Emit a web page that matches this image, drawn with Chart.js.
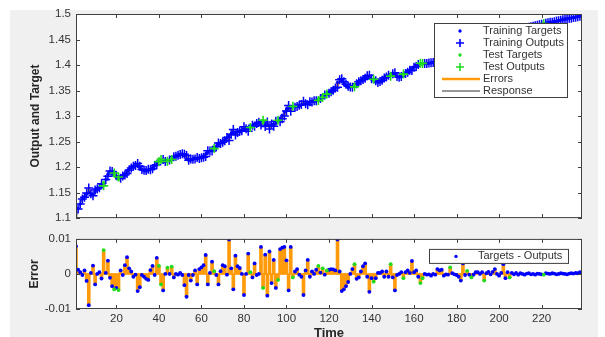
<!DOCTYPE html>
<html>
<head>
<meta charset="utf-8">
<script src="https://cdn.jsdelivr.net/npm/chart.js@4.4.0/dist/chart.umd.min.js"></script>
<style>
  html, body { margin: 0; padding: 0; background: #fff; overflow: hidden; width: 605px; height: 337px; }
  #fig { position: absolute; left: 10px; top: 10px; width: 588px; height: 327px; background: #f0f0f0; }
  #topChart { position: absolute; left: 0; top: 0; }
  #errChart { position: absolute; left: 0; top: 227px; }
</style>
</head>
<body>
<div id="fig"></div>
<canvas id="topChart" width="605" height="230"></canvas>
<canvas id="errChart" width="605" height="121"></canvas>
<script>
// time response plot: targets vs outputs (top) and errors (bottom)

const timeSteps = Array.from({ length: 239 }, (_, i) => i + 1);

// targets (t = 1..239)
const targets = [
  1.100, 1.119, 1.128, 1.137, 1.142, 1.147, 1.150, 1.148, 1.146, 1.152,
  1.157, 1.160, 1.166, 1.170, 1.176, 1.186, 1.191, 1.188, 1.184, 1.179,
  1.176, 1.179, 1.182, 1.187, 1.192, 1.196, 1.199, 1.201, 1.203, 1.202,
  1.198, 1.195, 1.193, 1.192, 1.194, 1.196, 1.199, 1.203, 1.209, 1.213,
  1.212, 1.210, 1.211, 1.213, 1.214, 1.217, 1.219, 1.221, 1.223, 1.225,
  1.226, 1.222, 1.216, 1.213, 1.214, 1.215, 1.217, 1.216, 1.218, 1.220,
  1.222, 1.226, 1.229, 1.232, 1.235, 1.237, 1.240, 1.244, 1.247, 1.251,
  1.254, 1.258, 1.262, 1.266, 1.269, 1.268, 1.270, 1.272, 1.271, 1.273,
  1.275, 1.276, 1.278, 1.281, 1.283, 1.285, 1.288, 1.290, 1.288, 1.285,
  1.282, 1.281, 1.282, 1.284, 1.286, 1.290, 1.296, 1.302, 1.308, 1.314,
  1.316, 1.317, 1.318, 1.318, 1.320, 1.321, 1.322, 1.323, 1.325, 1.326,
  1.327, 1.328, 1.330, 1.331, 1.333, 1.335, 1.338, 1.341, 1.344, 1.346,
  1.349, 1.352, 1.356, 1.366, 1.372, 1.368, 1.363, 1.359, 1.356, 1.357,
  1.358, 1.360, 1.362, 1.366, 1.370, 1.374, 1.377, 1.378, 1.375, 1.372,
  1.370, 1.368, 1.366, 1.368, 1.371, 1.374, 1.377, 1.379, 1.381, 1.382,
  1.380, 1.377, 1.376, 1.378, 1.381, 1.384, 1.387, 1.390, 1.393, 1.396,
  1.398, 1.400, 1.401, 1.402, 1.403, 1.403, 1.404, 1.404, 1.405, 1.405,
  1.407, 1.409, 1.411, 1.413, 1.415, 1.417, 1.419, 1.420, 1.422, 1.424,
  1.426, 1.428, 1.430, 1.432, 1.434, 1.435, 1.437, 1.439, 1.441, 1.442,
  1.444, 1.445, 1.447, 1.448, 1.450, 1.451, 1.453, 1.454, 1.456, 1.457,
  1.459, 1.460, 1.462, 1.463, 1.464, 1.466, 1.467, 1.468, 1.469, 1.470,
  1.471, 1.472, 1.473, 1.474, 1.475, 1.476, 1.477, 1.478, 1.479, 1.480,
  1.481, 1.482, 1.483, 1.484, 1.484, 1.485, 1.486, 1.487, 1.488, 1.489,
  1.490, 1.491, 1.492, 1.492, 1.493, 1.494, 1.495, 1.496, 1.497
];

// targets - outputs
const errors = [
  0.0079, 0.0012, 0.0005, -0.0003, 0.0010, -0.0020, -0.0089, 0.0003, 0.0024, -0.0030,
  0, 0.0005, -0.0013, 0.0068, 0.0003, 0.0038, -0.0011, -0.0035, -0.0044, -0.0040,
  -0.0046, 0.0010, -0.0003, 0.0025, 0.0048, 0.0016, 0.0007, -0.0008, -0.0002, -0.0049,
  -0.0038, -0.0003, -0.0008, -0.0014, -0.0017, 0.0011, 0.0023, -0.0003, 0.0046, 0.0023,
  -0.0030, -0.0047, 0, 0.0018, 0, 0.0021, -0.0010, 0, -0.0002, 0.0003,
  -0.0003, -0.0032, -0.0065, -0.0003, -0.0019, -0.0003, 0.0010, -0.0030, 0.0014, 0.0019,
  0.0025, 0.0054, -0.0030, 0.0003, 0.0035, 0.0008, -0.0003, -0.0030, 0.0008, 0.0025,
  0.0022, -0.0002, 0.0098, 0.0016, -0.0044, 0.0052, 0.0022, 0.0017, 0, -0.0060,
  0, 0.0058, 0.0005, -0.0010, 0.0030, -0.0003, 0, 0.0077, -0.0040, 0.0055,
  -0.0062, 0.0064, -0.0026, 0.0040, -0.0040, -0.0017, 0.0071, 0.0075, 0.0077, 0.0039,
  -0.0047, 0.0077, -0.0010, 0.0007, 0.0014, -0.0002, -0.0008, -0.0060, 0.0010, 0.0040,
  -0.0008, 0.0007, 0, 0.0012, 0.0023, 0.0004, 0.0016, -0.0002, 0.0010, 0.0012,
  0.0014, 0.0013, 0.0010, 0.0098, 0.0007, -0.0049, -0.0044, -0.0035, -0.0023, 0,
  0.0014, 0.0028, -0.0014, -0.0010, 0.0007, 0.0022, 0.0030, -0.0008, -0.0051, -0.0012,
  -0.0022, -0.0012, 0.0003, 0.0003, 0.0007, -0.0008, 0.0007, -0.0008, 0.0028, -0.0010,
  -0.0047, -0.0003, 0, 0.0005, -0.0012, 0.0005, 0.0010, 0.0003, 0.0037, 0.0005,
  0.0010, -0.0008, -0.0026, -0.0012, 0, -0.0002, -0.0001, -0.0005, 0, -0.0002,
  0.0014, 0.0010, 0.0012, -0.0005, -0.0001, -0.0002, 0.0019, 0.0002, -0.0001, -0.0003,
  -0.0008, -0.0019, 0.0030, -0.0003, 0.0009, -0.0002, -0.0010, -0.0002, 0.0005, 0.0005,
  0, 0.0005, -0.0019, 0.0002, 0.0006, -0.0001, 0.0006, 0.0014, 0, -0.0005,
  0.0003, 0.0028, -0.0012, 0.0005, -0.0010, 0.0003, -0.0001, 0.0003, -0.0002, 0.0002,
  0, -0.0002, 0.0001, 0.0002, -0.0001, 0, -0.0002, 0.0001, 0, -0.0001,
  -0.0002, 0.0002, 0.0001, 0, 0.0002, 0.0001, -0.0001, 0, 0.0002, 0.0001,
  0, -0.0001, 0.0001, 0.0002, 0.0001, 0.0003, 0.0002, 0.0005, 0.0003
];

// time steps that belong to the test set (green)
const testSteps = [14, 19, 21, 40, 41, 44, 46, 66, 83, 89, 96, 103, 115, 117, 119,
  132, 141, 149, 155, 163, 164, 177, 185, 187, 193, 205, 221];

const xTicks = [20, 40, 60, 80, 100, 120, 140, 160, 180, 200, 220];
const topYTicks = [1.1, 1.15, 1.2, 1.25, 1.3, 1.35, 1.4, 1.45, 1.5];
const errYTicks = [-0.01, 0, 0.01];

const BLUE = '#0000ff';
const GREEN = '#1fdc1f';
const ORANGE = '#ff9a0a';
const AXIS = '#404040';
const TEXT = '#333333';
const FONT = '"Liberation Sans", Arial, Helvetica, sans-serif';

Chart.defaults.font.family = FONT;

const outputs = targets.map((v, i) => +(v - errors[i]).toFixed(4));
const isTest = t => testSteps.includes(t);
const pick = (arr, test) => timeSteps.filter(t => isTest(t) === test).map(t => ({ x: t, y: arr[t - 1] }));

// white plot area, matlab-style box with inward ticks, boxed legend inside the axes
const matlabAxes = {
  id: 'matlabAxes',
  beforeDraw(chart) {
    const { ctx, chartArea: a } = chart;
    ctx.save();
    ctx.fillStyle = '#fff';
    ctx.fillRect(a.left, a.top, a.right - a.left, a.bottom - a.top);
    ctx.restore();
  },
  afterDraw(chart, args, opts) {
    const { ctx, chartArea: a } = chart;
    const xs = chart.scales.x, ys = chart.scales.y;
    ctx.save();

    // legend
    const lg = opts.legend;
    if (lg) {
      const x0 = a.right - lg.fromRight, y0 = a.top + lg.fromTop;
      ctx.fillStyle = '#fff';
      ctx.fillRect(x0, y0, lg.w, lg.h);
      ctx.strokeStyle = AXIS;
      ctx.lineWidth = 1;
      ctx.strokeRect(x0 + 0.5, y0 + 0.5, lg.w - 1, lg.h - 1);
      ctx.font = '11px ' + FONT;
      ctx.textBaseline = 'middle';
      ctx.textAlign = 'left';
      lg.items.forEach((it, i) => {
        const y = y0 + lg.firstRow + i * lg.rowGap;
        const sx = x0 + lg.symX;
        ctx.strokeStyle = it.color;
        ctx.fillStyle = it.color;
        if (it.kind === 'dot') {
          ctx.beginPath(); ctx.arc(sx, y, 1.7, 0, Math.PI * 2); ctx.fill();
        } else if (it.kind === 'cross') {
          ctx.lineWidth = 1.6;
          ctx.beginPath();
          ctx.moveTo(sx - 4, y); ctx.lineTo(sx + 4, y);
          ctx.moveTo(sx, y - 4); ctx.lineTo(sx, y + 4);
          ctx.stroke();
        } else {
          ctx.lineWidth = it.width;
          ctx.beginPath(); ctx.moveTo(x0 + 8, y); ctx.lineTo(x0 + 46, y); ctx.stroke();
        }
        ctx.fillStyle = TEXT;
        ctx.fillText(it.label, x0 + lg.textX, y);
      });
    }

    // box and ticks
    ctx.strokeStyle = AXIS;
    ctx.lineWidth = 1;
    ctx.strokeRect(a.left + 0.5, a.top + 0.5, a.right - a.left - 1, a.bottom - a.top - 1);
    ctx.beginPath();
    xTicks.forEach(v => {
      const px = Math.round(xs.getPixelForValue(v)) + 0.5;
      ctx.moveTo(px, a.bottom); ctx.lineTo(px, a.bottom - 4);
      ctx.moveTo(px, a.top); ctx.lineTo(px, a.top + 4);
    });
    opts.yTicks.forEach(v => {
      const py = Math.round(ys.getPixelForValue(v)) + 0.5;
      ctx.moveTo(a.left, py); ctx.lineTo(a.left + 4, py);
      ctx.moveTo(a.right, py); ctx.lineTo(a.right - 4, py);
    });
    ctx.stroke();
    ctx.restore();
  }
};

function yScale(min, max, ticks, title, titlePad) {
  return {
    type: 'linear', min, max,
    afterBuildTicks: s => { s.ticks = ticks.map(v => ({ value: v })); },
    afterFit: s => { s.width = 76; },
    grid: { display: false, drawTicks: false },
    border: { display: false },
    ticks: { color: TEXT, font: { size: 11.5 }, padding: 5, callback: v => String(v) },
    title: { display: true, text: title, color: '#262626', font: { size: 12, weight: 'bold' }, padding: { top: titlePad, bottom: 0 } }
  };
}

new Chart(document.getElementById('topChart'), {
  type: 'scatter',
  data: {
    datasets: [
      { type: 'scatter', label: 'Test Outputs', data: pick(outputs, true), pointStyle: 'cross', pointRadius: 4.5, borderColor: GREEN, borderWidth: 1.6, order: 0 },
      { type: 'scatter', label: 'Test Targets', data: pick(targets, true), pointRadius: 1.6, backgroundColor: GREEN, borderWidth: 0, order: 1 },
      { type: 'scatter', label: 'Training Outputs', data: pick(outputs, false), pointStyle: 'cross', pointRadius: 4.5, borderColor: BLUE, borderWidth: 1.5, order: 2 },
      { type: 'scatter', label: 'Training Targets', data: pick(targets, false), pointRadius: 1.6, backgroundColor: BLUE, borderWidth: 0, order: 3 },
      { type: 'bar', label: 'Errors', data: timeSteps.map(t => ({ x: t, y: [outputs[t - 1], targets[t - 1]] })), backgroundColor: ORANGE, barThickness: 2, borderWidth: 0, order: 4 },
      { type: 'line', label: 'Response', data: timeSteps.map(t => ({ x: t, y: outputs[t - 1] })), borderColor: '#505050', borderWidth: 0.6, pointRadius: 0, order: 5 }
    ]
  },
  options: {
    responsive: false,
    animation: false,
    layout: { padding: { top: 14, right: 23, left: 0, bottom: 0 } },
    plugins: {
      legend: { display: false },
      tooltip: { enabled: false },
      matlabAxes: {
        yTicks: topYTicks,
        legend: {
          fromRight: 148, fromTop: 9, w: 134, h: 75, firstRow: 8, rowGap: 12, symX: 26, textX: 49,
          items: [
            { label: 'Training Targets', kind: 'dot', color: BLUE },
            { label: 'Training Outputs', kind: 'cross', color: BLUE },
            { label: 'Test Targets', kind: 'dot', color: GREEN },
            { label: 'Test Outputs', kind: 'cross', color: GREEN },
            { label: 'Errors', kind: 'line', color: ORANGE, width: 2.5 },
            { label: 'Response', kind: 'line', color: '#303030', width: 1.2 }
          ]
        }
      }
    },
    scales: {
      x: {
        type: 'linear', min: 1, max: 239, offset: false,
        afterBuildTicks: s => { s.ticks = xTicks.map(v => ({ value: v })); },
        afterFit: s => { s.height = 10; },
        grid: { display: false, drawTicks: false },
        border: { display: false },
        ticks: { display: false }
      },
      y: yScale(1.1, 1.5, topYTicks, 'Output and Target', 28)
    }
  },
  plugins: [matlabAxes]
});

new Chart(document.getElementById('errChart'), {
  type: 'scatter',
  data: {
    datasets: [
      { type: 'scatter', label: 'Test Errors', data: pick(errors, true), pointRadius: 1.9, backgroundColor: GREEN, borderWidth: 0, order: 0 },
      { type: 'scatter', label: 'Targets - Outputs', data: pick(errors, false), pointRadius: 1.9, backgroundColor: BLUE, borderWidth: 0, order: 1 },
      { type: 'bar', label: 'Errors', data: timeSteps.map(t => ({ x: t, y: errors[t - 1] })), backgroundColor: ORANGE, barThickness: 3, borderWidth: 0, order: 2 },
      { type: 'line', label: 'Zero', data: [{ x: 1, y: 0 }, { x: 239, y: 0 }], borderColor: ORANGE, borderWidth: 1.5, pointRadius: 0, order: 3 }
    ]
  },
  options: {
    responsive: false,
    animation: false,
    layout: { padding: { top: 7, right: 23, left: 0, bottom: 0 } },
    plugins: {
      legend: { display: false },
      tooltip: { enabled: false },
      matlabAxes: {
        yTicks: errYTicks,
        legend: {
          fromRight: 153, fromTop: 10, w: 140, h: 15, firstRow: 7.5, rowGap: 12, symX: 27, textX: 49,
          items: [{ label: 'Targets - Outputs', kind: 'dot', color: BLUE }]
        }
      }
    },
    scales: {
      x: {
        type: 'linear', min: 1, max: 239, offset: false,
        afterBuildTicks: s => { s.ticks = xTicks.map(v => ({ value: v })); },
        afterFit: s => { s.height = 39; },
        grid: { display: false, drawTicks: false },
        border: { display: false },
        ticks: { color: TEXT, font: { size: 11.5 }, padding: 3, maxRotation: 0, autoSkip: false },
        title: { display: true, text: 'Time', color: '#262626', font: { size: 13, weight: 'bold' }, padding: { top: 0, bottom: 7 } }
      },
      y: yScale(-0.01, 0.01, errYTicks, 'Error', 27)
    }
  },
  plugins: [matlabAxes]
});
</script>
</body>
</html>
